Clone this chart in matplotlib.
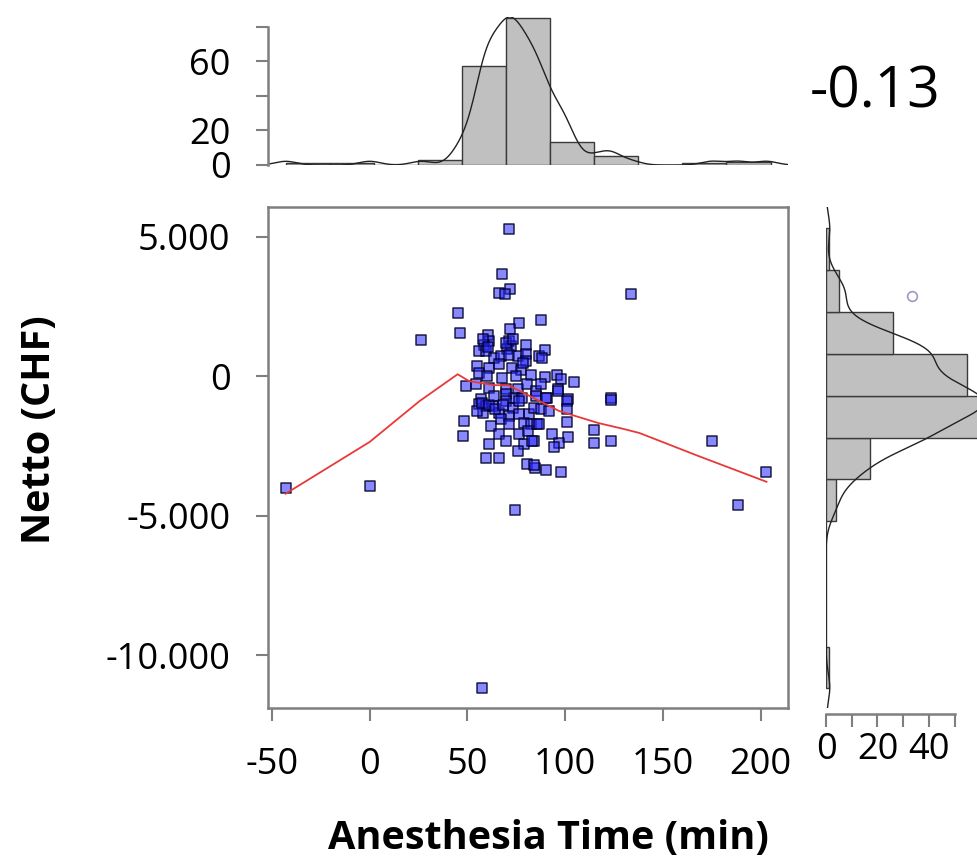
import numpy as np
import matplotlib
matplotlib.use("Agg")
import matplotlib.pyplot as plt

plt.rcParams['font.family'] = ['Open Sans', 'DejaVu Sans']
plt.rcParams['axes.unicode_minus'] = False

# scatter: anesthesia time (min) vs netto (CHF)
zeit = [45.1, 46.3, 76.5, 71.8, 60.4, 61.2, 58.7, 71.4, 72.4, 70.4, 80.0, 56.1, 59.5, 63.8,
        67.2, 71.4, 75.7, 80.1, 80.1, 55.1, 61.2, 66.3, 73.0, 77.4, 82.5, 56.1, 60.2, 67.9,
        49.3, 54.4, 61.2, 69.7, 75.7, 80.6, 85.1, 57.0, 74.0, 78.1, 86.7,
        87.6, 89.8, 88.4, 89.8, 95.6, 97.8, 104.6, 87.6, 96.6, 90.5, 101.7, 123.3,
        48.5, 47.6, 56.1, 59.5, 62.9, 57.8, 55.1, 69.7, 69.7, 73.1, 66.3, 71.4, 76.5, 81.6,
        62.1, 67.2, 71.4, 79.1, 82.5, 66.3, 69.7, 76.5, 80.8, 84.2, 79.1, 61.2, 75.7, 59.5,
        66.3, 80.3, 84.5, 85.7,
        85.0, 90.2, 96.1, 84.2, 87.6, 91.8, 101.2, 101.2, 86.7, 101.2, 83.3, 93.5, 101.7,
        96.9, 94.4, 114.8, 114.8, 123.3, 123.3, 84.2, 90.2, 97.8,
        71.4, 67.7, 71.8, 66.3, 69.4, 133.5,
        -42.9, 0.0, 26.5, 74.5, 57.7, 175.0, 188.3, 203.0,
        58.2, 60.7, 69.9, 73.5, 57.7, 61.2, 64.3, 68.4, 75.0, 78.6, 63.8, 76.5]
netto = [2261, 1546, 1904, 1704, 1489, 1275, 1132, 1250, 1071, 964, 1132, 893, 893, 654,
         714, 775, 714, 786, 536, 357, 296, 429, 296, 239, 61, 118, 0, -61,
         -357, -286, -418, -464, -464, -286, -536, -821, -775, -775, 714,
         2000, 954, 654, -36, 36, -82, -214, -296, -475, -775, -832, -796,
         -1607, -2143, -1000, -1071, -1071, -1311, -1250, -654, -893, -1132, -1311, -1429, -1368, -1368,
         -1786, -1546, -1725, -1668, -1725, -2082, -2321, -2082, -1964, -2321, -2439, -2439, -2679, -2918,
         -2918, -3132, -3275, -1714,
         -714, -775, -536, -1132, -1189, -1250, -893, -1189, -1725, -1632, -2321, -2082, -2179,
         -2382, -2536, -1939, -2404, -2321, -868, -3179, -3368, -3429,
         5296, 3654, 3132, 2975, 2939, 2954,
         -4000, -3929, 1286, -4786, -11179, -2321, -4607, -3429,
         1321, 1036, 1179, 1321, -964, -1036, -1179, -1036, 0, 464, -714, -893]

# smoothed trend (red)
trend_x = [-43, 0, 25.5, 45, 51, 64, 71, 82, 97, 117, 130, 138, 168, 203]
trend_y = [-4214, -2357, -893, 71, -179, -321, -321, -714, -1250, -1679, -1893, -2036, -2857, -3786]

# marginal histograms
x_edges = [-43, -20.45, 2.1, 24.65, 47.2, 69.75, 92.3, 114.85, 137.4, 159.95, 182.5, 205.05]
x_counts = [1, 1, 0, 3, 57, 85, 13, 5, 0, 1, 2]
y_edges = [-11200, -9700, -8200, -6700, -5200, -3700, -2200, -700, 800, 2300, 3800, 5300]
y_counts = [1, 0, 0, 0, 4, 17, 59, 55, 26, 5, 1]

r_text = "-0.13"
extra_x = [33.5]
extra_y = [2860]

XLIM = (-52, 214)
YLIM = (-11900, 6070)
GRAU = "#7f7f7f"


def kde(werte, raster, n_total, breite, adjust=0.9):
    werte = np.asarray(werte, float)
    q75, q25 = np.percentile(werte, [75, 25])
    bw = adjust * 0.9 * min(werte.std(ddof=1), (q75 - q25) / 1.34) * len(werte) ** -0.2
    z = (raster[:, None] - werte[None, :]) / bw
    dichte = np.exp(-0.5 * z ** 2).sum(axis=1) / (len(werte) * bw * np.sqrt(2 * np.pi))
    return dichte * n_total * breite


W, H = 977, 863
fig = plt.figure(figsize=(W / 100, H / 100), dpi=100)
ax = fig.add_axes([268 / W, 1 - 708 / H, 520 / W, 501 / H])
ax_top = fig.add_axes([268 / W, 1 - 165 / H, 520 / W, 148 / H])
ax_rechts = fig.add_axes([826 / W, 1 - 708 / H, 151 / W, 501 / H])

# scatter
ax.scatter(zeit, netto, marker="s", s=50, facecolor=(0.15, 0.15, 1.0, 0.55),
           edgecolor=(0, 0, 0.15, 0.85), linewidth=1.1, zorder=3)
ax.plot(trend_x, trend_y, color="#e8393a", lw=1.3, zorder=4)
ax.set_xlim(XLIM)
ax.set_ylim(YLIM)
ax.set_xticks([-50, 0, 50, 100, 150, 200])
ax.set_yticks([5000, 0, -5000, -10000])
ax.set_yticklabels(["5.000", "0", "-5.000", "-10.000"])
for s in ax.spines.values():
    s.set_color(GRAU)
    s.set_linewidth(1.8)
ax.tick_params(axis="both", colors=GRAU, width=1.5, length=9, labelsize=26, labelcolor="black")
ax.tick_params(axis="x", pad=19)
ax.tick_params(axis="y", pad=18)

# top histogram
breite_x = x_edges[1] - x_edges[0]
ax_top.bar(x_edges[:-1], x_counts, width=np.diff(x_edges), align="edge",
           color="#c0c0c0", edgecolor="#3a3a3a", linewidth=1.0)
rx = np.linspace(XLIM[0], XLIM[1], 800)
ax_top.plot(rx, kde(zeit, rx, sum(x_counts), breite_x), color="#222222", lw=1.0)
ax_top.set_xlim(XLIM)
ax_top.set_ylim(0, 85.5)
for k in ["top", "right", "bottom"]:
    ax_top.spines[k].set_visible(False)
ax_top.spines["left"].set_color(GRAU)
ax_top.spines["left"].set_linewidth(1.8)
ax_top.spines["left"].set_bounds(0, 80)
ax_top.set_xticks([])
ax_top.set_yticks([0, 20, 40, 60, 80])
ax_top.set_yticklabels(["0", "20", "", "60", ""])
ax_top.tick_params(axis="y", colors=GRAU, width=1.5, length=9, labelsize=26,
                   labelcolor="black", pad=18)

# right histogram
breite_y = y_edges[1] - y_edges[0]
ax_rechts.barh(y_edges[:-1], y_counts, height=np.diff(y_edges), align="edge",
               color="#c0c0c0", edgecolor="#3a3a3a", linewidth=1.0)
ry = np.linspace(YLIM[0], YLIM[1], 800)
ax_rechts.plot(kde(netto, ry, sum(y_counts), breite_y), ry, color="#222222", lw=1.0)
ax_rechts.plot(extra_x, extra_y, "o", mfc="none", mec="#9a9ac8", ms=7, mew=1.2)
ax_rechts.set_ylim(YLIM)
ax_rechts.set_xlim(0, 58.7)
for k in ["top", "right", "left"]:
    ax_rechts.spines[k].set_visible(False)
ax_rechts.spines["bottom"].set_color(GRAU)
ax_rechts.spines["bottom"].set_linewidth(1.8)
ax_rechts.spines["bottom"].set_bounds(0, 50)
ax_rechts.spines["bottom"].set_position(("outward", 4))
ax_rechts.set_yticks([])
ax_rechts.set_xticks([0, 10, 20, 30, 40, 50])
ax_rechts.set_xticklabels(["0", "", "20", "", "40", ""])
ax_rechts.tick_params(axis="x", colors=GRAU, width=1.5, length=9, labelsize=26,
                      labelcolor="black", pad=4)

fig.text(875 / W, 1 - 93 / H, r_text, fontsize=41, ha="center", va="center")
fig.text(548 / W, 1 - 838 / H, "Anesthesia Time (min)", fontsize=28.5, fontweight="bold",
         ha="center", va="center")
fig.text(40 / W, 1 - 430 / H, "Netto (CHF)", fontsize=28.5, fontweight="bold",
         rotation=90, ha="center", va="center")

fig.savefig("out.png", dpi=100)
